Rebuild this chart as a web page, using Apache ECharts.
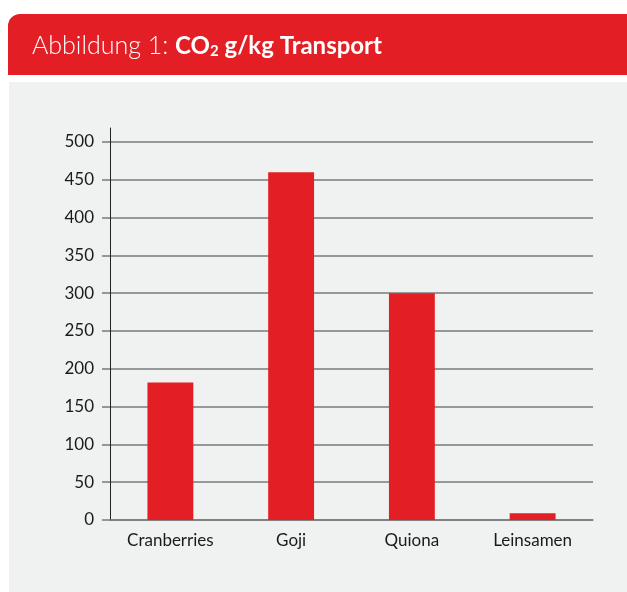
<!DOCTYPE html>
<html>
<head>
<meta charset="utf-8">
<script src="https://cdn.jsdelivr.net/npm/echarts@6/dist/echarts.min.js"></script>
<style>html,body{margin:0;padding:0;background:#fff;}#c{width:627px;height:592px;}</style>
</head>
<body>
<div id="c"></div>
<script>
var categories = ['Cranberries', 'Goji', 'Quiona', 'Leinsamen'];
var values = [182, 460, 300, 9];
var yMin = 0, yMax = 500, yInterval = 50;

var chart = echarts.init(document.getElementById('c'), null, {renderer: 'canvas'});
var FONT = 'Lato, "Noto Sans", sans-serif';
var RED = '#e31e25';
chart.setOption({
  backgroundColor: '#ffffff',
  animation: false,
  graphic: [
    {type: 'rect', shape: {x: 8, y: 14, width: 640, height: 61, r: [12, 12, 0, 0]}, style: {fill: RED}, z: 0},
    {type: 'rect', shape: {x: 9, y: 82, width: 640, height: 520}, style: {fill: '#f0f2f1'}, z: 0}
  ],
  title: {
    left: 27, top: 28,
    text: '{l|Abbildung 1: }{b|CO}{s|2}{b| g/kg Transport}',
    textStyle: {
      rich: {
        l: {fontFamily: FONT, fontWeight: 300, fontSize: 25, color: '#fff'},
        b: {fontFamily: FONT, fontWeight: 'bold', fontSize: 24, color: '#fff'},
        s: {fontFamily: FONT, fontWeight: 'bold', fontSize: 15, color: '#fff', padding: [11, 0, 0, 0]}
      }
    }
  },
  grid: [
    {left: 110, right: 34, top: 142, bottom: 72},
    {left: 110, right: 34, top: 128, bottom: 72}
  ],
  xAxis: [
    {
      type: 'category', gridIndex: 0, data: categories, boundaryGap: true,
      axisLine: {lineStyle: {color: '#7a7a7a', width: 1.5}},
      axisTick: {length: 11, lineStyle: {color: '#222', width: 1}},
      axisLabel: {margin: 12, fontFamily: FONT, fontSize: 17, color: '#1a1a1a'}
    },
    {type: 'category', gridIndex: 1, data: categories, show: false}
  ],
  yAxis: [
    {
      type: 'value', gridIndex: 0, min: yMin, max: yMax, interval: yInterval,
      axisLine: {show: false},
      axisTick: {show: true, length: 8, lineStyle: {color: '#7a7a7a', width: 1.5}},
      splitLine: {lineStyle: {color: '#7a7a7a', width: 1.5}},
      axisLabel: {margin: 16, fontFamily: FONT, fontSize: 17, color: '#1a1a1a'}
    },
    {
      type: 'value', gridIndex: 1, min: 0, max: 1,
      axisLine: {show: true, lineStyle: {color: '#222', width: 1}},
      axisTick: {show: false}, axisLabel: {show: false}, splitLine: {show: false}
    }
  ],
  series: [{
    type: 'bar', xAxisIndex: 0, yAxisIndex: 0, data: values,
    barWidth: '38%', itemStyle: {color: RED}, z: 3
  }]
});
</script>
</body>
</html>
